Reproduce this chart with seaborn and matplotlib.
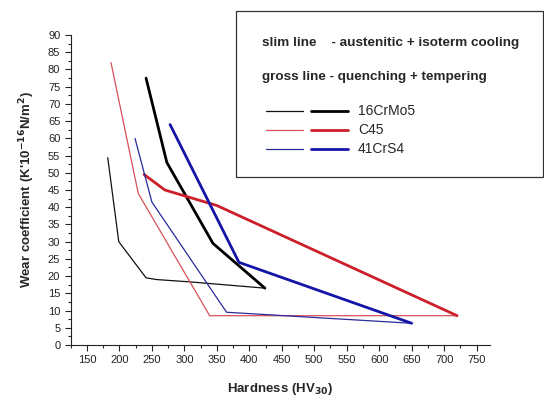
import numpy as np
import pandas as pd
import matplotlib
matplotlib.use("Agg")
import matplotlib.pyplot as plt
import seaborn as sns
from matplotlib.lines import Line2D
from matplotlib.patches import Rectangle
from matplotlib.ticker import MultipleLocator

# slim lines - austenitic + isoterm cooling
thin_16_x = [182, 199, 241, 257, 310, 424]
thin_16_y = [54.4, 30, 19.5, 19, 18.3, 16.5]
thin_c45_x = [187, 229, 339, 720]
thin_c45_y = [82, 44, 8.5, 8.5]
thin_41_x = [224, 250, 365, 650]
thin_41_y = [60, 41.5, 9.5, 6.3]

# gross lines - quenching + tempering
thick_16_x = [241, 273, 344, 424]
thick_16_y = [77.5, 53, 29.5, 16.5]
thick_c45_x = [238, 270, 350, 720]
thick_c45_y = [49.5, 45, 40.5, 8.5]
thick_41_x = [278, 384, 650]
thick_41_y = [64, 24, 6.3]

steels = ["16CrMo5", "C45", "41CrS4"]
colors = {"16CrMo5": ("#111111", "#000000"),
          "C45": ("#d8505a", "#cc1f2a"),
          "41CrS4": ("#2a2a9a", "#1414a8")}

sns.set_style("ticks")
plt.rcParams['font.family'] = ['Liberation Sans', 'DejaVu Sans']

fig = plt.figure(figsize=(5.44, 4.03), dpi=100)
ax = fig.add_axes([0.13, 0.144, 0.77, 0.769])

thin = {"16CrMo5": (thin_16_x, thin_16_y), "C45": (thin_c45_x, thin_c45_y),
        "41CrS4": (thin_41_x, thin_41_y)}
thick = {"16CrMo5": (thick_16_x, thick_16_y), "C45": (thick_c45_x, thick_c45_y),
         "41CrS4": (thick_41_x, thick_41_y)}

for s in steels:
    sns.lineplot(x=thin[s][0], y=thin[s][1], sort=False, ax=ax,
                 color=colors[s][0], linewidth=0.9)
    sns.lineplot(x=thick[s][0], y=thick[s][1], sort=False, ax=ax,
                 color=colors[s][1], linewidth=2.0)

ax.set_xlim(125, 770)
ax.set_ylim(0, 90)
ax.xaxis.set_major_locator(MultipleLocator(50))
ax.xaxis.set_minor_locator(MultipleLocator(25))
ax.yaxis.set_major_locator(MultipleLocator(5))
ax.yaxis.set_minor_locator(MultipleLocator(2.5))
ax.set_xticks([t for t in range(150, 751, 50)])
ax.tick_params(which="major", length=4, width=0.8, labelsize=8, colors="#222222")
ax.tick_params(which="minor", length=2, width=0.8)
sns.despine(ax=ax)
for sp in ["left", "bottom"]:
    ax.spines[sp].set_linewidth(0.8)
    ax.spines[sp].set_color("#222222")

ax.set_xlabel("Hardness (HV$_{\\mathbf{30}}$)", fontsize=9.5, fontweight="bold", labelpad=11)
ax.set_ylabel("Wear coefficient (K'10$^{\\mathbf{-16}}$N/m$^{\\mathbf{2}}$)",
              fontsize=9.5, fontweight="bold", labelpad=8)

# legend box
W, H = 544, 403
def fx(px):
    return px / W
def fy(py):
    return 1 - py / H

fig.patches.append(Rectangle((fx(236), fy(177)), fx(543) - fx(236), fy(11) - fy(177),
                             transform=fig.transFigure, fill=False,
                             edgecolor="#333333", linewidth=0.9))
fig.text(fx(262), fy(43), "slim line    - austenitic + isoterm cooling",
         fontsize=9.7, fontweight="bold", va="center")
fig.text(fx(262), fy(77), "gross line - quenching + tempering",
         fontsize=9.7, fontweight="bold", va="center")
for s, py in zip(steels, [111, 130, 149]):
    fig.lines.append(Line2D([fx(266), fx(303)], [fy(py), fy(py)], transform=fig.transFigure,
                            color=colors[s][0], linewidth=0.9))
    fig.lines.append(Line2D([fx(311), fx(348)], [fy(py), fy(py)], transform=fig.transFigure,
                            color=colors[s][1], linewidth=2.0))
    fig.text(fx(358), fy(py), s, fontsize=10, va="center")

fig.savefig("out.png", dpi=100)
